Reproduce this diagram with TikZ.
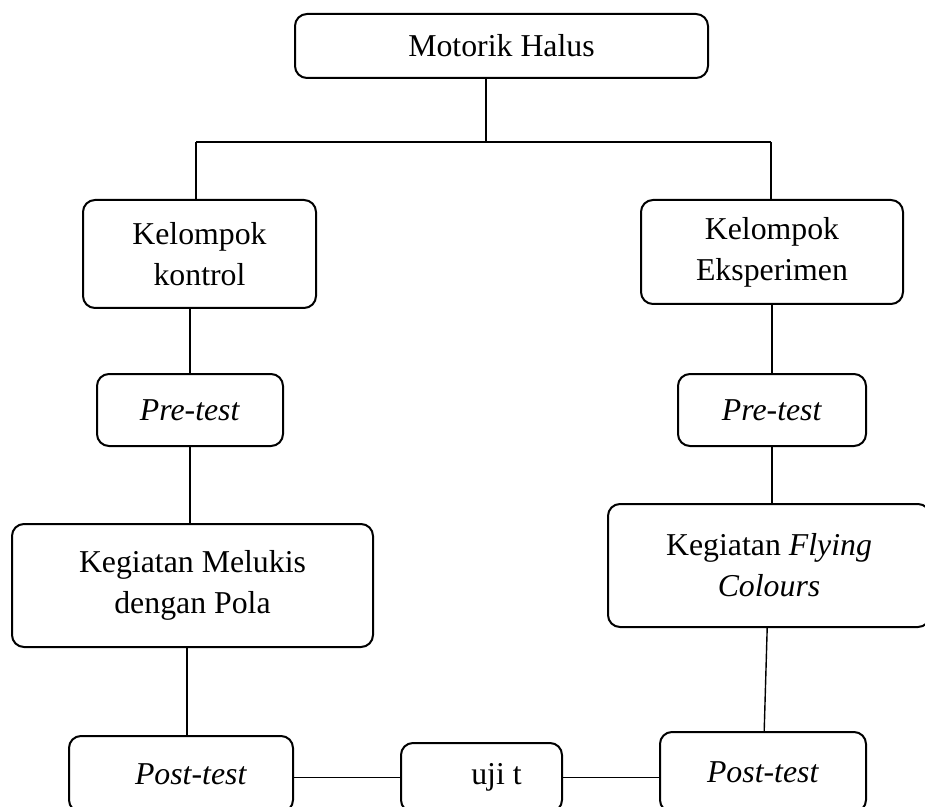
\documentclass[tikz,border=0pt]{standalone}
\usepackage{fontspec}
\setmainfont{Liberation Serif}
\tikzset{
    kotak/.style={rectangle, draw, rounded corners=6pt, line width=1pt,
    	inner sep=0pt, align=center, font=\fontsize{15.9}{20.5}\selectfont}
}
\tikzset{
    every edge/.append style={line width=0.7pt}
}

\begin{document}
\begin{tikzpicture}[x=0.5pt, y=-0.5pt]
	\useasboundingbox (0,0) rectangle (925,807);
	\node (1) [kotak, minimum width=206.5pt, minimum height=32pt] at (501.5,46) {Motorik Halus};
	\node (2) [kotak, minimum width=116.5pt, minimum height=54pt] at (199.5,254) {Kelompok\\kontrol};
	\node (3) [kotak, minimum width=131pt, minimum height=52pt] at (772,252) {Kelompok\\Eksperimen};
	\node (4) [kotak, minimum width=93pt, minimum height=36pt] at (190,410) {\textit{Pre-test}};
	\node (5) [kotak, minimum width=94pt, minimum height=36pt] at (772,410) {\textit{Pre-test}};
	\node (6) [kotak, minimum width=180.5pt, minimum height=61.5pt] at (192.5,585.5) {Kegiatan Melukis\\dengan Pola};
	\node (7) [kotak, minimum width=161pt, minimum height=61.5pt] at (769,565.5) {Kegiatan \textit{Flying}\\\textit{Colours}};
	\node (8) [kotak, minimum width=112pt, minimum height=38pt] at (181,774) {\hspace{10pt}\textit{Post-test}};
	\node (9) [kotak, minimum width=103pt, minimum height=40pt] at (763,772) {\textit{Post-test}};
	\node (10) [kotak, minimum width=80.5pt, minimum height=34.5pt] at (481.5,777.5) {\hspace{15pt}uji t};

	\coordinate (j) at (486,142);
	\coordinate (jl) at (196,142);
	\coordinate (jr) at (771,142);

	\draw (1.south -| j) edge (j); \draw (jl) edge (jr);
	\draw (jl) edge (2.north -| jl); \draw (jr) edge (3.north -| jr);
	\draw (4.north |- 2.south) edge (4.north);
	\draw (4.south) edge (4.south |- 6.north);
	\draw (8.north -| 187,0) edge (6.south -| 187,0);
	\draw (3) edge (5);
	\draw (5.south) edge (5.south |- 7.north);
	\draw (7) edge (9);
	\draw (10.west) edge (10.west -| 8.east);
	\draw (10.east) edge (10.east -| 9.west);
\end{tikzpicture}
\end{document}
